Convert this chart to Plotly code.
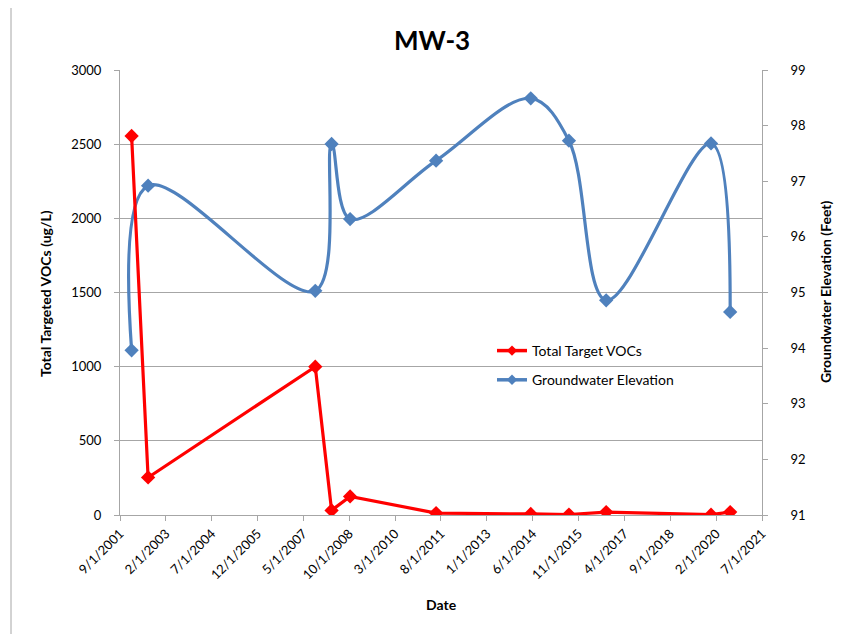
import plotly.graph_objects as go

dates = ["2002-01-10", "2002-07-15", "2007-09-13", "2008-03-15", "2008-10-10",
         "2011-06-07", "2014-05-10", "2015-07-15", "2016-09-07", "2019-12-04", "2020-07-07"]
vocs = [2555, 253, 1000, 31, 125, 13, 7, 3, 20, 2, 20]
gw_elev = [93.96, 96.92, 95.03, 97.67, 96.32, 97.37, 98.49, 97.73, 94.86, 97.68, 94.65]

tick_dates = ["2001-09-01", "2003-02-01", "2004-07-01", "2005-12-01", "2007-05-01",
              "2008-10-01", "2010-03-01", "2011-08-01", "2013-01-01", "2014-06-01",
              "2015-11-01", "2017-04-01", "2018-09-01", "2020-02-01", "2021-07-01"]
tick_labels = ["9/1/2001", "2/1/2003", "7/1/2004", "12/1/2005", "5/1/2007",
               "10/1/2008", "3/1/2010", "8/1/2011", "1/1/2013", "6/1/2014",
               "11/1/2015", "4/1/2017", "9/1/2018", "2/1/2020", "7/1/2021"]

RED = "#FF0000"
BLUE = "#4F81BD"
GRID = "#A6A6A6"
FONT = "Lato"
NB_L = "\u00a0" * 3
NB_R = "\u00a0" * 6

fig = go.Figure()

# Groundwater (base axis, right side)
fig.add_trace(go.Scatter(
    x=dates, y=gw_elev, mode="lines+markers", name="Groundwater Elevation",
    line=dict(color=BLUE, width=3.2, shape="spline", smoothing=1.0),
    marker=dict(symbol="diamond", size=11, color=BLUE),
    yaxis="y", showlegend=False))

# VOCs (overlay axis, left side)
fig.add_trace(go.Scatter(
    x=dates, y=vocs, mode="lines+markers", name="Total Target VOCs",
    line=dict(color=RED, width=3.2),
    marker=dict(symbol="diamond", size=11, color=RED),
    yaxis="y2", showlegend=False))

# legend entries
fig.add_trace(go.Scatter(
    x=[None], y=[None], mode="lines+markers", name="Total Target VOCs", legendgroup="a",
    line=dict(color=RED, width=3.5), marker=dict(symbol="diamond", size=8, color=RED),
    yaxis="y2"))
fig.add_trace(go.Scatter(
    x=[None], y=[None], mode="lines+markers", name="Groundwater Elevation", legendgroup="b",
    line=dict(color=BLUE, width=3.5), marker=dict(symbol="diamond", size=8, color=BLUE),
    yaxis="y2"))

OFF = 8  # page body margin
W, H = 846 - OFF, 634 - OFF
L, T = 120 - OFF, 70 - OFF
pw, ph = 642, 445
R, B = W - L - pw, H - T - ph

def px(x):
    return (x - 120) / pw

def py(y):
    return (515 - y) / ph

def ann(text, x, y, size, angle=0):
    return dict(text=text, x=px(x), y=py(y), xref="paper", yref="paper",
                xanchor="center", yanchor="middle", textangle=angle,
                showarrow=False, font=dict(family=FONT, size=size, color="black"))

fig.update_layout(
    width=W, height=H,
    margin=dict(l=L, r=R, t=T, b=B, pad=0),
    paper_bgcolor="white", plot_bgcolor="white",
    font=dict(family=FONT, size=13, color="black"),
    xaxis=dict(
        type="date", range=["2001-09-01", "2021-07-01"],
        tickvals=tick_dates, ticktext=tick_labels, tickangle=-45,
        ticks="outside", ticklen=5, tickcolor=GRID,
        showline=True, linecolor=GRID, linewidth=1,
        showgrid=False, zeroline=False,
        tickfont=dict(family=FONT, size=13, color="black"),
    ),
    yaxis=dict(
        side="right", range=[91, 99], dtick=1, tick0=91,
        ticks="outside", ticklen=5, tickcolor=GRID, tickprefix=NB_R,
        showline=True, linecolor=GRID, linewidth=1,
        showgrid=False, zeroline=False,
        tickfont=dict(family=FONT, size=13, color="black"),
    ),
    yaxis2=dict(
        side="left", overlaying="y", range=[0, 3000], dtick=500, tick0=0,
        ticks="outside", ticklen=5, tickcolor=GRID, ticksuffix=NB_L,
        showline=True, linecolor=GRID, linewidth=1,
        showgrid=True, gridcolor=GRID, gridwidth=1, zeroline=False,
        tickfont=dict(family=FONT, size=13, color="black"),
    ),
    legend=dict(
        x=px(492), y=py(335), xanchor="left", yanchor="top",
        bgcolor="rgba(0,0,0,0)", font=dict(family=FONT, size=14, color="black"),
        itemwidth=30, tracegroupgap=8, traceorder="grouped",
    ),
    showlegend=True,
    annotations=[
        ann("<b>MW-3</b>", 432, 40, 26),
        ann("<b>Total Targeted VOCs (ug/L)</b>", 45, 294, 14, -90),
        ann("<b>Groundwater Elevation (Feet)</b>", 825, 292, 14, -90),
        ann("<b>Date</b>", 442, 604, 14),
    ],
    shapes=[
        dict(type="line", xref="paper", yref="paper", x0=px(11), x1=px(11),
             y0=py(6), y1=py(640), line=dict(color="#A6A6A6", width=1)),
    ],
)

fig.write_html("out.html")
